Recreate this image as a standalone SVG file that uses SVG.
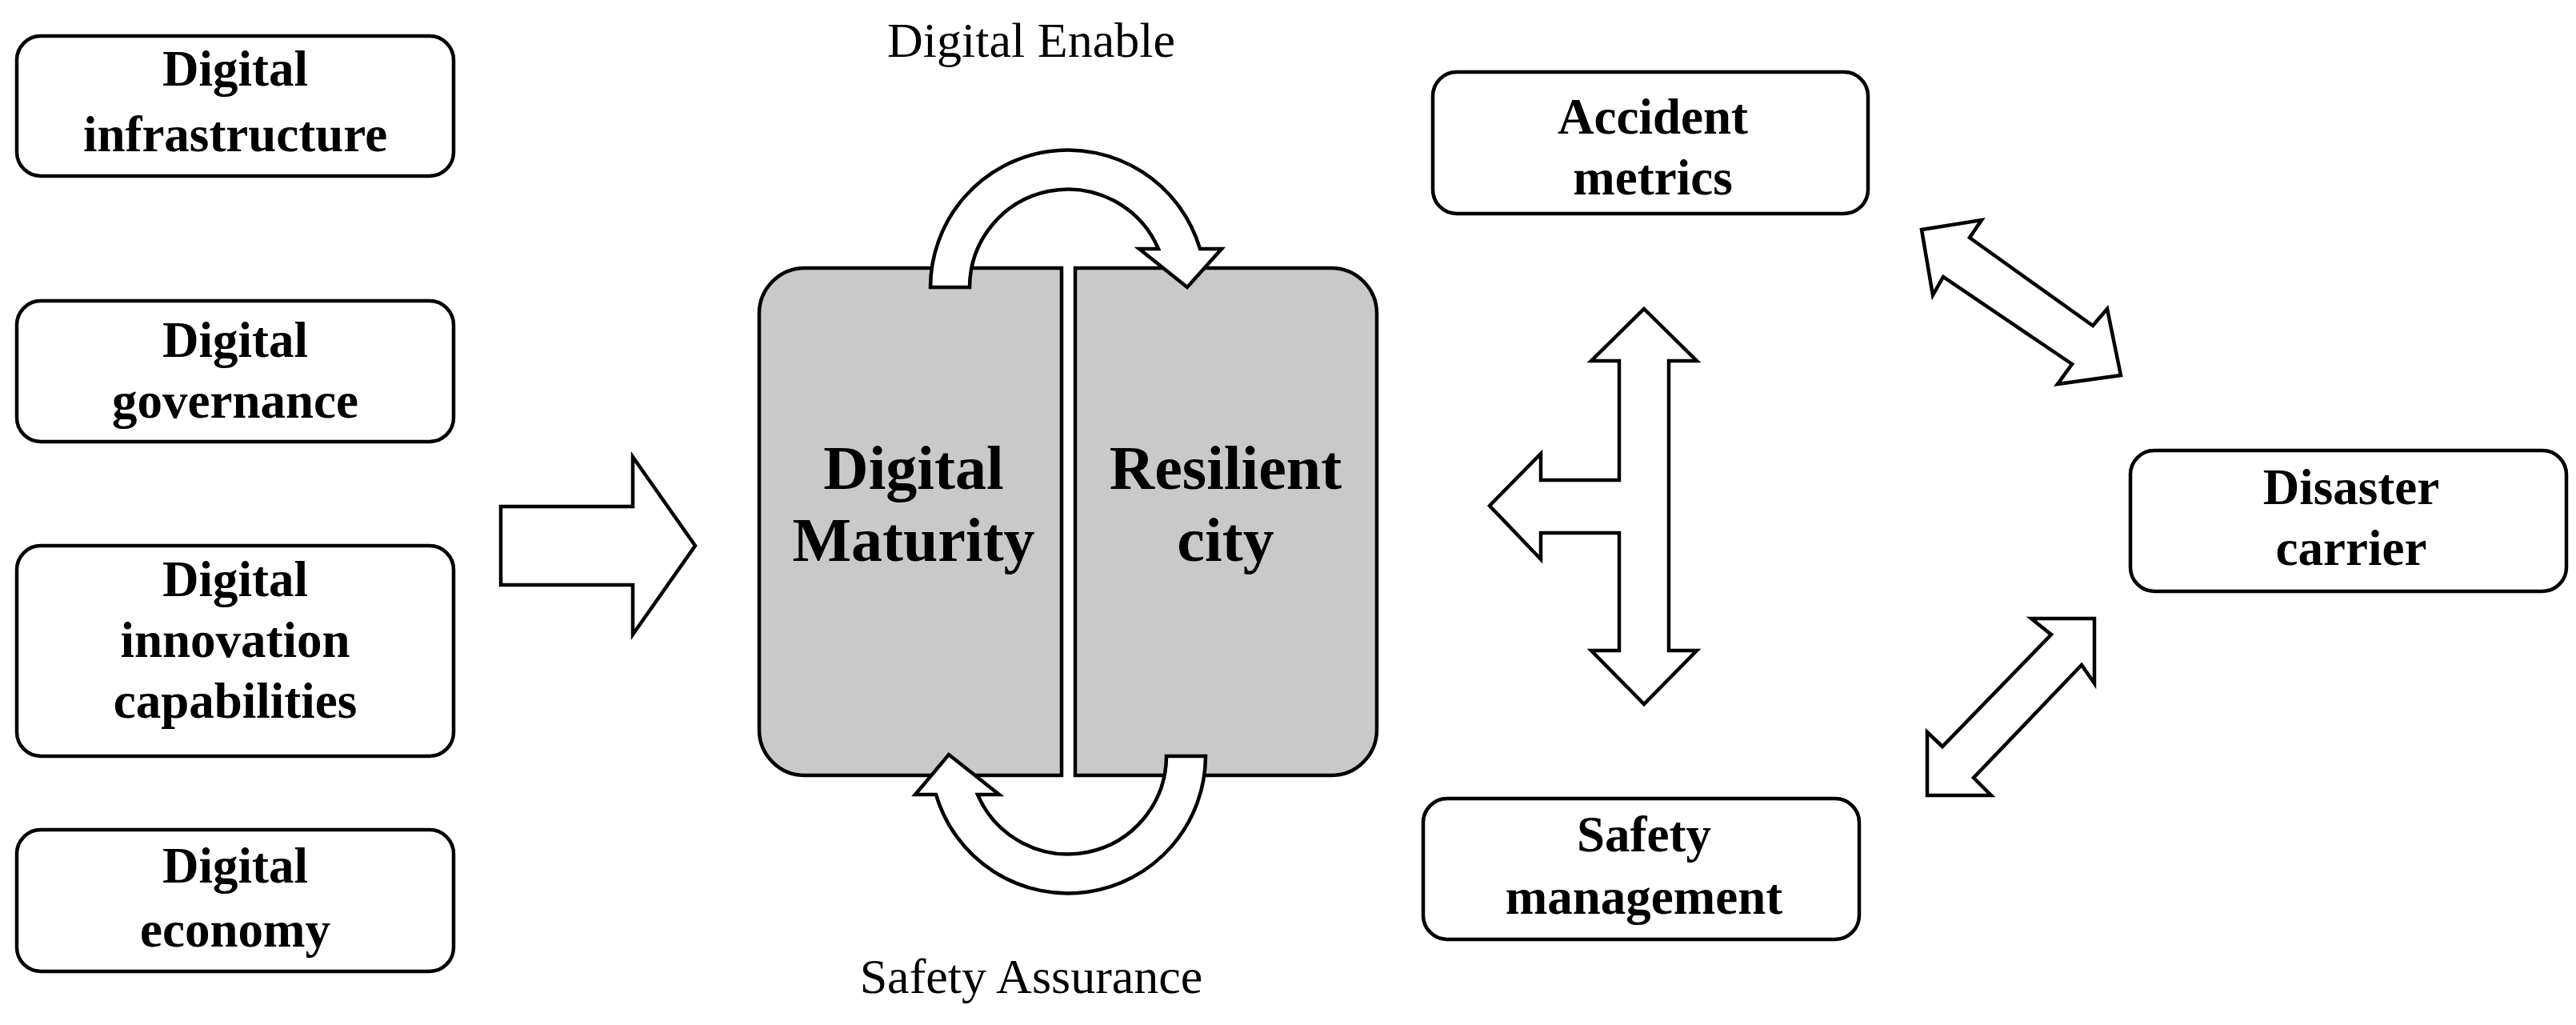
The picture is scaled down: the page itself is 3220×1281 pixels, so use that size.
<svg xmlns="http://www.w3.org/2000/svg" width="3220" height="1281" viewBox="0 0 3220 1281">
<style>
.box{fill:#fff;stroke:#000;stroke-width:4.5}
.gray{fill:#c9c9c9;stroke:#000;stroke-width:4.5}
.arr{fill:#fff;stroke:#000;stroke-width:4.5;stroke-linejoin:miter}
.t{font-family:"Liberation Serif","DejaVu Serif",serif;font-weight:bold;font-size:63px;text-anchor:middle;fill:#000}
.big{font-size:78px}
.lab{font-family:"Liberation Serif","DejaVu Serif",serif;font-size:62px;text-anchor:middle;fill:#000}
</style>
<rect width="3220" height="1281" fill="#fff"/>
<g id="n-infra"><rect class="box" x="21" y="45" width="546" height="175" rx="30"/><text class="t" x="294" y="107">Digital</text><text class="t" x="294" y="189">infrastructure</text></g>
<g id="n-gov"><rect class="box" x="21" y="376" width="546" height="176" rx="30"/><text class="t" x="294" y="446">Digital</text><text class="t" x="294" y="522">governance</text></g>
<g id="n-innov"><rect class="box" x="21" y="682" width="546" height="263" rx="30"/><text class="t" x="294" y="745">Digital</text><text class="t" x="294" y="821">innovation</text><text class="t" x="294" y="897">capabilities</text></g>
<g id="n-econ"><rect class="box" x="21" y="1037" width="546" height="177" rx="30"/><text class="t" x="294" y="1103">Digital</text><text class="t" x="294" y="1183">economy</text></g>
<g id="n-center">
<path class="gray" d="M1327,335 L1006,335 A57,57 0 0 0 949,392 L949,912 A57,57 0 0 0 1006,969 L1327,969 Z"/>
<path class="gray" d="M1344,335 L1664,335 A57,57 0 0 1 1721,392 L1721,912 A57,57 0 0 1 1664,969 L1344,969 Z"/>
<text class="t big" x="1142" y="611">Digital</text><text class="t big" x="1142" y="701">Maturity</text>
<text class="t big" x="1532" y="611">Resilient</text><text class="t big" x="1532" y="701">city</text>
</g>
<g id="n-acc"><rect class="box" x="1791" y="90" width="544" height="177" rx="30"/><text class="t" x="2066" y="167">Accident</text><text class="t" x="2066" y="243">metrics</text></g>
<g id="n-safe"><rect class="box" x="1779" y="998" width="545" height="176" rx="30"/><text class="t" x="2055" y="1064">Safety</text><text class="t" x="2055" y="1142">management</text></g>
<g id="n-dis"><rect class="box" x="2663" y="563" width="545" height="176" rx="30"/><text class="t" x="2939" y="630">Disaster</text><text class="t" x="2939" y="706">carrier</text></g>
<text class="lab" x="1289" y="71">Digital Enable</text>
<text class="lab" x="1289" y="1241">Safety Assurance</text>
<g id="connectors">
<path class="arr" d="M626,633 L791,633 L791,571 L869,682 L791,793 L791,731 L626,731 Z"/>
<path class="arr" d="M1163,359 A172,172 0 0 1 1500,311 L1527,311 L1484,359 L1424,311 L1448,311 A123,123 0 0 0 1212,359 Z"/>
<path class="arr" d="M1507,945 A172,172 0 0 1 1170,993 L1144,993 L1186,943 L1249,993 L1222,993 A123,123 0 0 0 1458,945 Z"/>
<path class="arr" d="M2055,386 L2121,451 L2086,451 L2086,813 L2121,813 L2055,880 L1989,813 L2024,813 L2024,666 L1926,666 L1926,699 L1862,632 L1926,567 L1926,600 L2024,600 L2024,451 L1989,451 Z"/>
<path class="arr" d="M2402,287 L2477,275 L2462,297 L2616,407 L2634,386 L2651,469 L2572,480 L2590,455 L2429,346 L2416,369 Z"/>
<path class="arr" d="M2618,773 L2618,854 L2602,831 L2467,972 L2489,994 L2409,994 L2409,915 L2428,933 L2564,793 L2539,773 Z"/>
</g>
</svg>
